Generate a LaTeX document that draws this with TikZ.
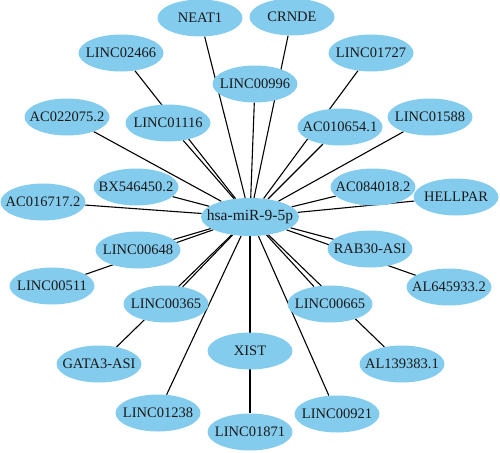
\documentclass[tikz,border=0pt]{standalone}
\usepackage{fontspec}
\setmainfont{Liberation Serif}
\usetikzlibrary{shapes.geometric,backgrounds}
\definecolor{nodeblue}{RGB}{132,204,238}
\definecolor{txt}{RGB}{25,25,25}
\tikzset{
  gene/.style={ellipse, fill=nodeblue, draw=none, inner sep=0pt,
    minimum width=85pt, minimum height=37pt, text=txt,
    font=\fontsize{14.5}{14.5}\selectfont},
  hub/.style={gene, minimum width=98pt, minimum height=38pt,
    font=\fontsize{15.5}{15.5}\selectfont},
  link/.style={draw=black, line width=1.1pt}
}
\newcommand{\zb}[1]{\makebox[0pt][c]{#1}}
\begin{document}
\begin{tikzpicture}[x=1pt,y=-1pt]
\useasboundingbox (0,0) rectangle (500,452);
\node[hub] (c) at (250,217) {\zb{hsa-miR-9-5p}};
\node[gene] (neat) at (200,18) {\zb{NEAT1}};
\node[gene] (crnde) at (292,17) {\zb{CRNDE}};
\node[gene] (l2466) at (121,53) {\zb{LINC02466}};
\node[gene] (l1727) at (371,53) {\zb{LINC01727}};
\node[gene] (l0996) at (255,84) {\zb{LINC00996}};
\node[gene] (ac022) at (67,117) {\zb{AC022075.2}};
\node[gene] (l1116) at (168,123) {\zb{LINC01116}};
\node[gene] (ac010) at (340,127) {\zb{AC010654.1}};
\node[gene] (l1588) at (430,117) {\zb{LINC01588}};
\node[gene] (bx) at (136,187) {\zb{BX546450.2}};
\node[gene] (ac084) at (373,187) {\zb{AC084018.2}};
\node[gene] (ac016) at (43,202) {\zb{AC016717.2}};
\node[gene] (hell) at (456,197) {\zb{HELLPAR}};
\node[gene] (l0648) at (138,250) {\zb{LINC00648}};
\node[gene] (rab) at (370,249) {\zb{RAB30-ASI}};
\node[gene] (l0511) at (52,286) {\zb{LINC00511}};
\node[gene] (al645) at (449,287) {\zb{AL645933.2}};
\node[gene] (l0365) at (166,304) {\zb{LINC00365}};
\node[gene] (l0665) at (330,304) {\zb{LINC00665}};
\node[gene] (xist) at (250,351) {\zb{XIST}};
\node[gene] (gata) at (99,364) {\zb{GATA3-ASI}};
\node[gene] (al139) at (402,364) {\zb{AL139383.1}};
\node[gene] (l1238) at (158,413) {\zb{LINC01238}};
\node[gene] (l0921) at (337,414) {\zb{LINC00921}};
\node[gene] (l1871) at (250,432) {\zb{LINC01871}};
\begin{pgfonlayer}{background}
\foreach \n in {neat,crnde,l2466,l1727,l0996,ac022,l1116,ac010,l1588,bx,ac084,ac016,hell,l0648,rab,l0511,al645,l0365,l0665,xist,gata,al139,l1238,l0921,l1871}
  \draw[link] (c) -- (\n);
\end{pgfonlayer}
\end{tikzpicture}
\end{document}
